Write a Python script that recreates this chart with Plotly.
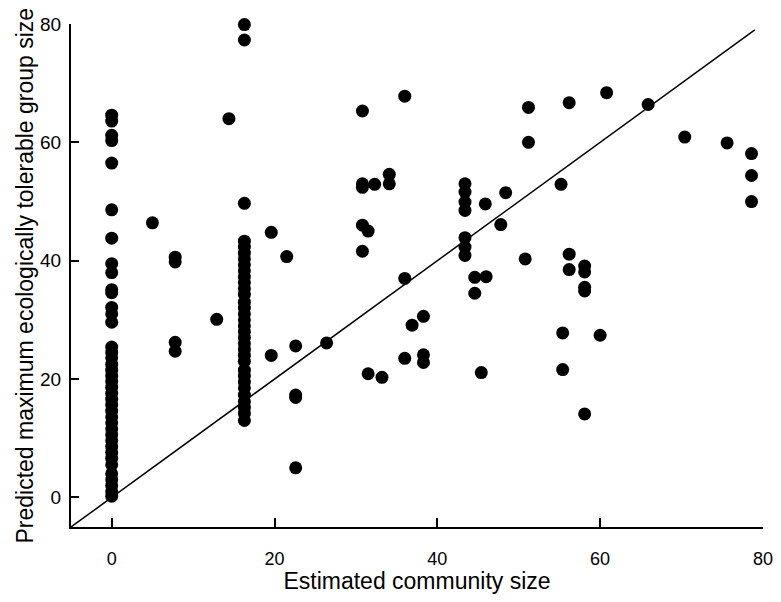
import plotly.graph_objects as go

# Column at estimated community size 0
col0_y = [64.6, 63.6, 61.2, 60.3, 56.5, 48.6, 43.8, 39.5, 38.0, 35.1, 34.6, 32.1, 31.0, 29.6,
          25.4, 24.5, 23.6, 22.5, 21.5, 20.5, 19.6, 18.6, 17.6, 16.6, 15.6, 14.6, 13.6, 12.6,
          11.6, 10.6, 9.6, 8.6, 7.6, 6.6, 5.5, 4.0, 3.0, 2.0, 1.0, 0.2]
col0_x = [0.0] * len(col0_y)

# Column at estimated community size ~16.3
col16_y = [79.9, 77.3, 49.7, 43.3, 42.3, 41.3, 40.3, 39.3, 38.3, 37.3, 36.3, 35.3, 34.3, 33.0,
           32.0, 31.0, 30.0, 29.0, 28.0, 27.0, 26.0, 25.0, 24.0, 23.0, 21.5, 20.5, 19.5, 18.5,
           17.3, 16.2, 15.2, 14.2, 13.0]
col16_x = [16.3] * len(col16_y)

# Remaining communities
other_x = [14.4, 5.0, 7.8, 7.8, 7.8, 7.8, 12.9,
           19.6, 21.5, 30.8, 36.0, 30.8, 30.8, 32.3, 34.1, 34.1, 30.8, 31.5, 30.8, 36.0,
           43.4, 43.4, 43.4, 43.4, 43.4, 43.4, 43.4, 45.9, 48.4, 47.8, 44.6, 46.0, 44.6,
           38.3, 36.9, 19.6, 22.6, 26.4, 36.0, 38.3, 38.3, 31.5, 33.2, 45.4, 22.6, 22.6, 22.6,
           51.2, 51.2, 56.2, 60.8, 65.9, 70.4, 75.6, 78.6, 78.6, 78.6, 55.2, 50.8, 56.2, 56.2,
           58.1, 58.1, 58.1, 58.1, 55.4, 60.0, 55.4, 58.1]
other_y = [64.0, 46.4, 40.6, 39.8, 26.2, 24.7, 30.1,
           44.8, 40.7, 65.3, 67.8, 53.0, 52.4, 52.9, 54.6, 53.0, 46.0, 45.0, 41.6, 37.0,
           53.0, 51.6, 49.9, 48.5, 43.9, 42.3, 40.9, 49.6, 51.5, 46.1, 37.2, 37.3, 34.5,
           30.6, 29.1, 24.0, 25.6, 26.1, 23.5, 24.1, 22.8, 20.9, 20.3, 21.1, 17.3, 16.9, 5.0,
           65.9, 60.0, 66.7, 68.4, 66.4, 60.9, 59.9, 58.1, 54.4, 50.0, 52.9, 40.3, 41.1, 38.5,
           39.1, 38.1, 35.5, 34.9, 27.8, 27.4, 21.6, 14.1]

x_vals = col0_x + col16_x + other_x
y_vals = col0_y + col16_y + other_y

# 1:1 reference line
line_x = [-5, 79]
line_y = [-5, 79]

x_ticks = [0, 20, 40, 60, 80]
y_ticks = [0, 20, 40, 60, 80]

x_title = "Estimated community size"
y_title = "Predicted maximum ecologically tolerable group size"

fig = go.Figure()
fig.add_trace(go.Scatter(x=line_x, y=line_y, mode="lines",
                         line=dict(color="black", width=1.5), hoverinfo="skip", showlegend=False))
fig.add_trace(go.Scatter(x=x_vals, y=y_vals, mode="markers",
                         marker=dict(color="black", size=13, line=dict(width=0)),
                         cliponaxis=False, showlegend=False))

font_family = "Liberation Sans, Arial, sans-serif"
L_MARGIN = 63
fig.update_layout(
    width=765, height=586,
    margin=dict(l=L_MARGIN, r=10, t=16, b=67),
    paper_bgcolor="white", plot_bgcolor="white",
    font=dict(family=font_family, color="black", size=16),
)
fig.add_annotation(
    text=y_title, textangle=-90, xref="paper", yref="paper",
    x=0, y=0.5, xanchor="left", yanchor="middle", xshift=-L_MARGIN + 1,
    showarrow=False, font=dict(size=23, family=font_family, color="black"),
)
fig.update_xaxes(
    range=[-5, 80.01], tickvals=x_ticks, ticktext=[str(v) for v in x_ticks],
    ticks="inside", ticklen=9, tickwidth=1.5, tickcolor="black",
    showline=True, linecolor="black", linewidth=2, mirror=False,
    showgrid=False, zeroline=False,
    tickfont=dict(size=18, family=font_family), ticklabelstandoff=14,
    ticklabeloverflow="allow",
    title=dict(text=x_title, font=dict(size=23, family=font_family), standoff=3),
    automargin=False,
)
fig.update_yaxes(
    range=[-5, 80], tickvals=y_ticks, ticktext=[str(v) for v in y_ticks],
    ticks="inside", ticklen=8, tickwidth=1.5, tickcolor="black",
    showline=True, linecolor="black", linewidth=2, mirror=False,
    showgrid=False, zeroline=False,
    tickfont=dict(size=19, family=font_family), ticklabelstandoff=4,
    ticklabeloverflow="allow",
    automargin=False,
)

fig.write_html("out.html")
